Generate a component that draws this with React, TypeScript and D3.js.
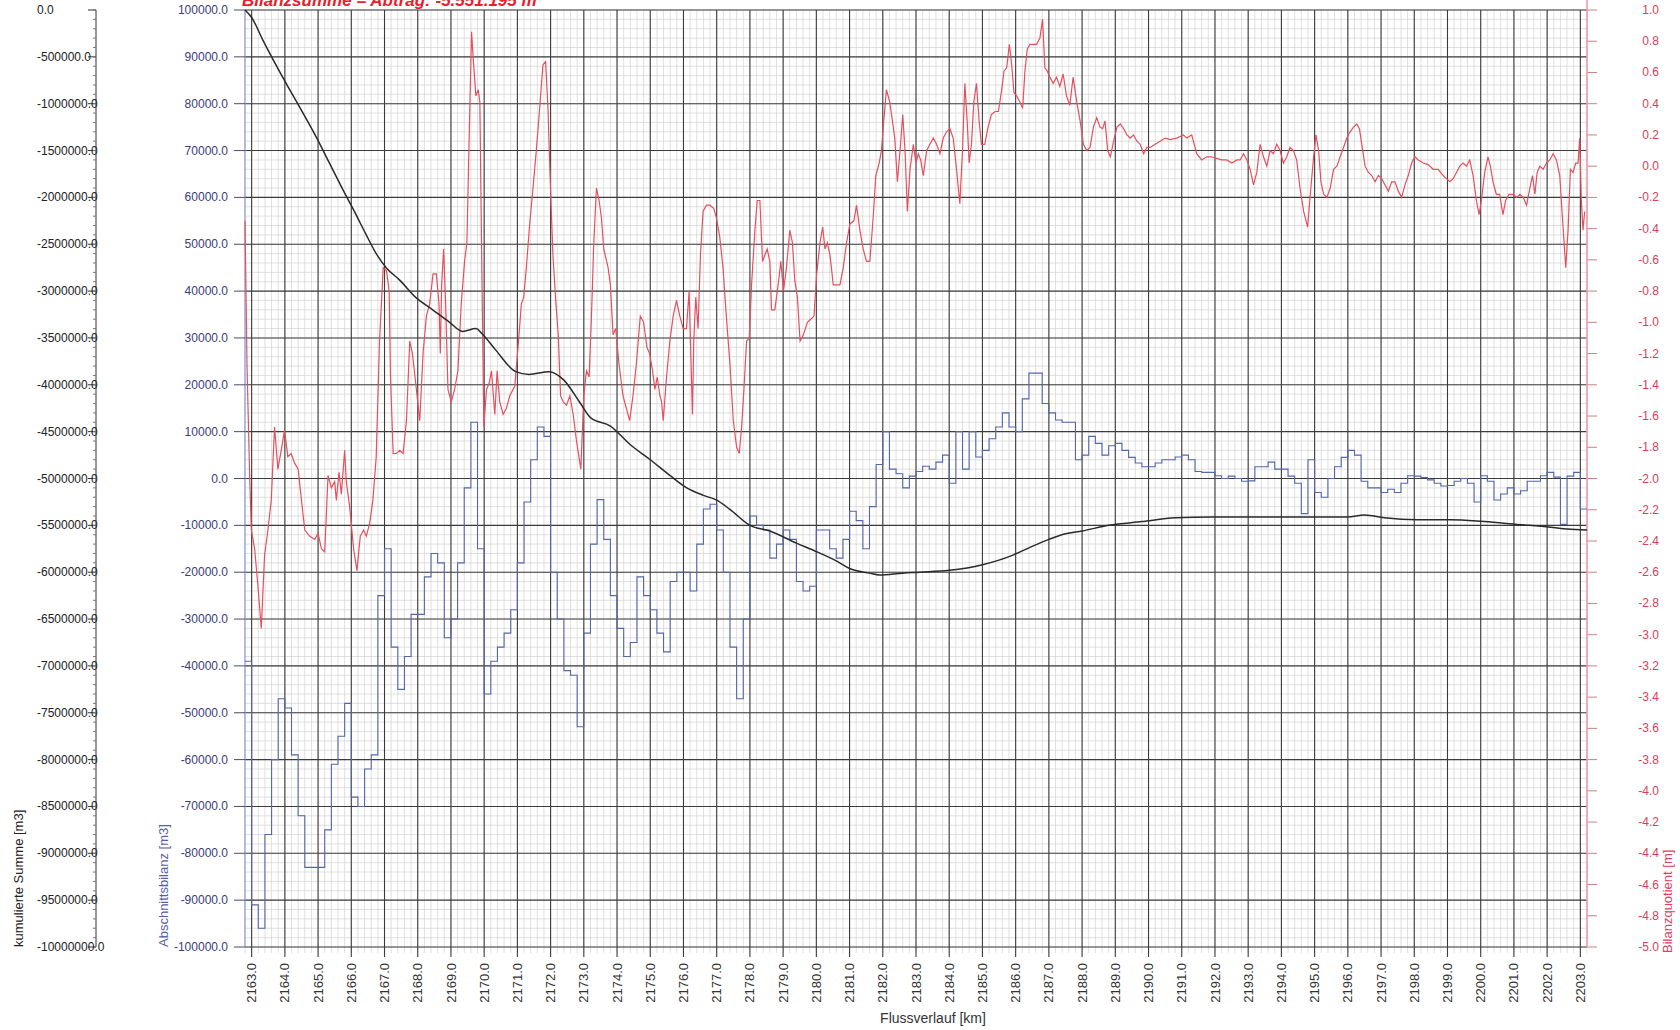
import { useEffect, useRef } from "react";
import * as d3 from "d3";

// ---- data ----

// x categories: river kilometre labels
const kmTicks = d3.range(2163, 2204, 1);

// Abschnittsbilanz [m3] – one value per 0.2 km section, first section starts at 2162.8
const balanceStart = 2162.8;
const balanceStep = 0.2;
const balance = [
  -39000, -91000, -96000, -76000, -60000, -47000, -49000, -59000, -72000, -83000,
  -83000, -83000, -75000, -61000, -55000, -48000, -68000, -70000, -62000, -59000,
  -25000, -15000, -36000, -45000, -38000, -29000, -29000, -21000, -16000, -18000,
  -34000, -30000, -18000, -2000, 12000, -15000, -46000, -39000, -36000, -33000,
  -28000, -18000, -5000, 4000, 11000, 9000, -20000, -30000, -41000, -42000,
  -53000, -33000, -14000, -4500, -13000, -25000, -32000, -38000, -35000, -21000,
  -25000, -28000, -33000, -37000, -22000, -20000, -20000, -24000, -14000, -6500,
  -5500, -11000, -20000, -36000, -47000, -30000, -8000, -10000, -11000, -17000,
  -14000, -11000, -13000, -22000, -24000, -23000, -11000, -11000, -15000, -17000,
  -13000, -7000, -9000, -15000, -6000, 3000, 10000, 2000, 1000, -2000,
  500, 1500, 2600, 2000, 3500, 5000, -1000, 10000, 2000, 10000,
  4600, 6000, 8500, 11000, 14000, 11000, 10000, 17000, 22500, 22500,
  16000, 14000, 12500, 12000, 12000, 4000, 5000, 9000, 7500, 5000,
  7000, 7500, 6000, 4500, 3300, 2500, 2500, 3300, 4000, 4000,
  4600, 5000, 4000, 1500, 1300, 1300, 600, 0, 500, 0,
  -600, -500, 2500, 2500, 3500, 2000, 2000, 500, -1000, -7500,
  4000, -3000, -4000, 0, 2500, 4500, 6000, 5000, -600, -2000,
  -2000, -3000, -2300, -3000, -1000, 600, 500, 200, -300, -1000,
  -1600, -1500, -600, 0, -1000, -5000, 600, -600, -4600, -3300,
  -2000, -3300, -2600, -600, -600, 600, 1300, 300, -9800, 500,
  1300, -6500,
];

// kumulierte Summe [m3]  [km, value]
const cumulative: [number, number][] = [
  [2162.8, 0], [2163.0, -80000], [2163.35, -330000], [2164.0, -760000], [2164.45, -1040000],
  [2164.95, -1360000], [2165.35, -1640000], [2165.75, -1920000], [2166.05, -2120000],
  [2166.45, -2400000], [2166.75, -2600000], [2167.05, -2750000], [2167.45, -2880000],
  [2167.95, -3070000], [2168.45, -3200000], [2168.95, -3330000], [2169.35, -3430000],
  [2169.75, -3400000], [2169.95, -3460000], [2170.35, -3630000], [2170.95, -3860000],
  [2171.35, -3890000], [2171.95, -3860000], [2172.4, -3950000], [2172.9, -4200000],
  [2173.2, -4350000], [2173.8, -4440000], [2174.4, -4640000], [2175.0, -4800000],
  [2175.6, -4970000], [2176.1, -5100000], [2176.6, -5180000], [2177.0, -5230000],
  [2177.4, -5330000], [2178.0, -5500000], [2178.6, -5560000], [2179.4, -5690000],
  [2180.0, -5780000], [2180.6, -5880000], [2181.0, -5960000], [2181.6, -6010000],
  [2181.9, -6030000], [2182.6, -6010000], [2183.1, -6000000], [2184.0, -5980000],
  [2185.0, -5920000], [2185.9, -5820000], [2186.4, -5740000], [2187.0, -5650000],
  [2187.5, -5590000], [2188.0, -5560000], [2188.8, -5500000], [2189.8, -5460000],
  [2190.8, -5420000], [2191.9, -5410000], [2192.9, -5410000], [2194.0, -5410000],
  [2195.0, -5410000], [2196.0, -5410000], [2196.5, -5390000], [2197.1, -5420000],
  [2198.1, -5440000], [2199.1, -5440000], [2200.1, -5460000], [2201.1, -5490000],
  [2202.1, -5520000], [2202.6, -5540000], [2203.2, -5550000],
];

// Bilanzquotient [m]  [km, value]
const quotient: [number, number][] = [
  [2162.8, -0.35], [2162.86, -1.27], [2162.94, -1.98], [2162.99, -2.33], [2163.09, -2.45],
  [2163.19, -2.69], [2163.29, -2.96], [2163.39, -2.49], [2163.49, -2.33], [2163.59, -2.14],
  [2163.69, -1.67], [2163.79, -1.94], [2163.89, -1.82], [2163.99, -1.69], [2164.09, -1.86],
  [2164.19, -1.84], [2164.29, -1.9], [2164.4, -1.94], [2164.5, -2.14], [2164.6, -2.33],
  [2164.75, -2.37], [2164.9, -2.39], [2165.0, -2.35], [2165.1, -2.45], [2165.2, -2.47],
  [2165.3, -1.98], [2165.4, -2.06], [2165.5, -2.02], [2165.55, -2.14], [2165.63, -1.96],
  [2165.7, -2.1], [2165.8, -1.82], [2165.85, -2.02], [2165.95, -2.18], [2166.07, -2.45],
  [2166.17, -2.59], [2166.27, -2.37], [2166.37, -2.33], [2166.45, -2.37], [2166.55, -2.29],
  [2166.65, -2.14], [2166.75, -1.86], [2166.85, -1.12], [2166.96, -0.65], [2167.06, -0.67],
  [2167.14, -0.8], [2167.18, -1.35], [2167.26, -1.84], [2167.36, -1.84], [2167.46, -1.82],
  [2167.56, -1.84], [2167.66, -1.63], [2167.76, -1.12], [2167.84, -1.2], [2167.96, -1.43],
  [2168.06, -1.63], [2168.16, -1.2], [2168.26, -0.96], [2168.36, -0.88], [2168.46, -0.69],
  [2168.56, -0.69], [2168.64, -0.88], [2168.68, -1.2], [2168.72, -0.76], [2168.78, -0.53],
  [2168.84, -0.88], [2168.91, -1.43], [2169.01, -1.51], [2169.11, -1.43], [2169.21, -1.31],
  [2169.31, -0.88], [2169.41, -0.61], [2169.48, -0.49], [2169.54, 0.1], [2169.62, 0.86],
  [2169.67, 0.69], [2169.75, 0.45], [2169.82, 0.49], [2169.87, 0.41], [2169.92, -0.49],
  [2169.99, -1.67], [2170.07, -1.43], [2170.15, -1.39], [2170.22, -1.31], [2170.32, -1.59],
  [2170.39, -1.31], [2170.47, -1.51], [2170.57, -1.59], [2170.67, -1.55], [2170.77, -1.47],
  [2170.92, -1.41], [2171.02, -1.16], [2171.12, -0.88], [2171.19, -0.84], [2171.27, -0.65],
  [2171.37, -0.37], [2171.47, -0.14], [2171.57, 0.1], [2171.67, 0.37], [2171.77, 0.65],
  [2171.85, 0.67], [2171.92, 0.37], [2171.99, -0.1], [2172.07, -0.57], [2172.16, -0.88],
  [2172.23, -1.08], [2172.3, -1.47], [2172.38, -1.51], [2172.48, -1.53], [2172.58, -1.47],
  [2172.68, -1.59], [2172.78, -1.76], [2172.91, -1.94], [2173.0, -1.47], [2173.08, -1.31],
  [2173.16, -1.35], [2173.23, -0.96], [2173.3, -0.49], [2173.38, -0.14], [2173.46, -0.22],
  [2173.53, -0.33], [2173.6, -0.53], [2173.73, -0.65], [2173.8, -0.76], [2173.88, -1.08],
  [2173.96, -1.04], [2174.06, -1.27], [2174.18, -1.47], [2174.28, -1.55], [2174.38, -1.63],
  [2174.48, -1.47], [2174.58, -1.27], [2174.7, -0.96], [2174.8, -1.0], [2174.9, -1.16],
  [2174.98, -1.2], [2175.07, -1.31], [2175.14, -1.43], [2175.21, -1.35], [2175.29, -1.47],
  [2175.34, -1.51], [2175.39, -1.63], [2175.49, -1.35], [2175.59, -1.12], [2175.69, -0.96],
  [2175.79, -0.86], [2175.89, -0.96], [2175.99, -1.04], [2176.09, -1.04], [2176.17, -0.8],
  [2176.21, -1.12], [2176.27, -1.59], [2176.31, -1.12], [2176.37, -0.84], [2176.44, -1.04],
  [2176.51, -0.57], [2176.59, -0.29], [2176.69, -0.25], [2176.79, -0.25], [2176.91, -0.27],
  [2176.99, -0.33], [2177.09, -0.45], [2177.19, -0.65], [2177.29, -0.96], [2177.4, -1.27],
  [2177.5, -1.63], [2177.6, -1.8], [2177.68, -1.84], [2177.75, -1.67], [2177.82, -1.43],
  [2177.9, -1.12], [2177.98, -1.1], [2178.05, -0.76], [2178.15, -0.41], [2178.22, -0.22],
  [2178.3, -0.22], [2178.38, -0.61], [2178.45, -0.57], [2178.52, -0.53], [2178.6, -0.61],
  [2178.65, -0.92], [2178.75, -0.92], [2178.85, -0.76], [2178.93, -0.61], [2179.01, -0.8],
  [2179.1, -0.65], [2179.2, -0.41], [2179.28, -0.49], [2179.35, -0.73], [2179.43, -0.84],
  [2179.51, -1.12], [2179.61, -1.08], [2179.73, -1.0], [2179.83, -0.98], [2179.93, -0.96],
  [2180.01, -0.69], [2180.11, -0.49], [2180.19, -0.39], [2180.26, -0.53], [2180.33, -0.49],
  [2180.41, -0.57], [2180.51, -0.76], [2180.61, -0.76], [2180.71, -0.76], [2180.81, -0.65],
  [2180.91, -0.49], [2181.01, -0.37], [2181.13, -0.35], [2181.21, -0.25], [2181.31, -0.41],
  [2181.41, -0.53], [2181.51, -0.61], [2181.61, -0.61], [2181.71, -0.33], [2181.79, -0.06],
  [2181.89, 0.02], [2181.96, 0.1], [2182.03, 0.29], [2182.11, 0.49], [2182.21, 0.41],
  [2182.29, 0.29], [2182.36, 0.18], [2182.44, -0.1], [2182.52, 0.1], [2182.6, 0.33],
  [2182.67, 0.1], [2182.74, -0.29], [2182.82, -0.02], [2182.92, 0.14], [2183.0, 0.02],
  [2183.07, 0.08], [2183.14, 0.04], [2183.22, -0.06], [2183.32, 0.1], [2183.42, 0.14],
  [2183.52, 0.18], [2183.62, 0.14], [2183.72, 0.08], [2183.82, 0.18], [2183.92, 0.22],
  [2184.02, 0.24], [2184.12, 0.18], [2184.22, -0.02], [2184.32, -0.24], [2184.4, 0.1],
  [2184.47, 0.53], [2184.54, 0.29], [2184.6, 0.02], [2184.67, 0.14], [2184.74, 0.41],
  [2184.82, 0.53], [2184.9, 0.29], [2184.97, 0.14], [2185.07, 0.14], [2185.17, 0.25],
  [2185.27, 0.33], [2185.38, 0.35], [2185.48, 0.35], [2185.58, 0.49], [2185.65, 0.61],
  [2185.73, 0.63], [2185.81, 0.78], [2185.88, 0.65], [2185.95, 0.47], [2186.03, 0.45],
  [2186.13, 0.41], [2186.21, 0.37], [2186.28, 0.61], [2186.35, 0.75], [2186.43, 0.78],
  [2186.53, 0.78], [2186.63, 0.78], [2186.73, 0.82], [2186.81, 0.94], [2186.88, 0.63],
  [2186.95, 0.61], [2187.03, 0.57], [2187.13, 0.53], [2187.23, 0.57], [2187.33, 0.51],
  [2187.43, 0.59], [2187.53, 0.45], [2187.63, 0.39], [2187.73, 0.57], [2187.84, 0.41],
  [2187.94, 0.29], [2188.04, 0.14], [2188.14, 0.1], [2188.24, 0.12], [2188.34, 0.25],
  [2188.44, 0.31], [2188.54, 0.25], [2188.62, 0.24], [2188.69, 0.29], [2188.77, 0.1],
  [2188.85, 0.06], [2188.95, 0.16], [2189.05, 0.25], [2189.15, 0.27], [2189.25, 0.24],
  [2189.35, 0.2], [2189.45, 0.18], [2189.55, 0.2], [2189.65, 0.16], [2189.75, 0.14],
  [2189.85, 0.08], [2189.95, 0.12], [2190.05, 0.12], [2190.2, 0.14], [2190.35, 0.16],
  [2190.5, 0.18], [2190.65, 0.17], [2190.85, 0.18], [2191.05, 0.2], [2191.15, 0.18],
  [2191.3, 0.2], [2191.45, 0.08], [2191.6, 0.04], [2191.75, 0.06], [2191.9, 0.06],
  [2192.05, 0.05], [2192.2, 0.04], [2192.35, 0.04], [2192.51, 0.02], [2192.66, 0.04],
  [2192.76, 0.04], [2192.86, 0.08], [2192.96, 0.04], [2193.06, -0.02], [2193.16, -0.12],
  [2193.26, -0.04], [2193.36, 0.14], [2193.46, 0.06], [2193.56, 0.0], [2193.66, 0.1],
  [2193.76, 0.08], [2193.86, 0.14], [2193.96, 0.1], [2194.06, 0.02], [2194.16, 0.06],
  [2194.26, 0.12], [2194.36, 0.1], [2194.46, 0.04], [2194.56, -0.14], [2194.67, -0.29],
  [2194.79, -0.39], [2194.87, -0.18], [2194.97, 0.06], [2195.04, 0.2], [2195.12, 0.1],
  [2195.19, -0.1], [2195.27, -0.18], [2195.37, -0.2], [2195.47, -0.14], [2195.57, -0.02],
  [2195.67, 0.0], [2195.77, 0.06], [2195.87, 0.12], [2195.97, 0.18], [2196.07, 0.22],
  [2196.17, 0.25], [2196.27, 0.27], [2196.35, 0.24], [2196.42, 0.14], [2196.52, 0.0],
  [2196.62, -0.04], [2196.72, -0.06], [2196.82, -0.1], [2196.92, -0.06], [2197.02, -0.08],
  [2197.12, -0.12], [2197.22, -0.16], [2197.32, -0.1], [2197.42, -0.1], [2197.52, -0.16],
  [2197.62, -0.2], [2197.72, -0.12], [2197.82, -0.06], [2197.92, 0.02], [2198.02, 0.06],
  [2198.12, 0.04], [2198.27, 0.02], [2198.42, 0.01], [2198.57, -0.02], [2198.72, -0.02],
  [2198.87, -0.06], [2198.97, -0.08], [2199.07, -0.1], [2199.17, -0.08], [2199.27, -0.04],
  [2199.37, 0.0], [2199.47, 0.02], [2199.57, 0.0], [2199.67, 0.04], [2199.77, -0.06],
  [2199.87, -0.22], [2199.95, -0.31], [2200.02, -0.22], [2200.12, -0.04], [2200.22, 0.06],
  [2200.29, 0.0], [2200.37, -0.1], [2200.47, -0.18], [2200.57, -0.18], [2200.67, -0.31],
  [2200.75, -0.22], [2200.85, -0.18], [2200.98, -0.18], [2201.08, -0.2], [2201.18, -0.18],
  [2201.28, -0.2], [2201.38, -0.25], [2201.48, -0.14], [2201.56, -0.06], [2201.63, -0.18],
  [2201.7, -0.04], [2201.78, 0.0], [2201.88, -0.02], [2201.98, 0.02], [2202.08, 0.04],
  [2202.18, 0.08], [2202.28, 0.04], [2202.38, -0.06], [2202.46, -0.33], [2202.56, -0.65],
  [2202.63, -0.41], [2202.7, -0.02], [2202.78, -0.04], [2202.86, 0.02], [2202.93, 0.02],
  [2202.98, 0.18], [2203.03, -0.22], [2203.08, -0.41], [2203.13, -0.29],
];

// axis tick values
const sumTicks = d3.range(0, 21).map((i) => -i * 500000);
const balanceTicks = d3.range(0, 21).map((i) => 100000 - i * 10000);
const quotientTicks = d3.range(0, 31).map((i) => Math.round((1 - i * 0.2) * 10) / 10);

const title = "Bilanzsumme = Abtrag: -5.551.195 m³";

const FONT = "'Liberation Sans', Arial, Helvetica, sans-serif";

export default function App() {
  const ref = useRef<SVGSVGElement | null>(null);

  useEffect(() => {
    if (!ref.current) return;
    const svg = d3.select(ref.current);
    svg.selectAll("*").remove();

    const left = 245, right = 1587, top = 10, bottom = 947;

    const x = d3.scaleLinear().domain([2162.8, 2203.2]).range([left, right]);
    const yB = d3.scaleLinear().domain([-100000, 100000]).range([bottom, top]);
    const yS = d3.scaleLinear().domain([-10000000, 0]).range([bottom, top]);
    const yQ = d3.scaleLinear().domain([-5, 1]).range([bottom, top]);

    svg.append("rect").attr("width", 1680).attr("height", 1030).attr("fill", "#fff");

    // minor grid
    const grid = svg.append("g");
    const minorKm = d3.range(0, 203).map((i) => 2162.8 + i * 0.2);
    grid.selectAll("line.vmin").data(minorKm).join("line")
      .attr("x1", (d) => x(d)).attr("x2", (d) => x(d))
      .attr("y1", top).attr("y2", bottom + 6)
      .attr("stroke", "#d2d2d2").attr("stroke-width", 0.7);
    const minorB = d3.range(0, 101).map((i) => -100000 + i * 2000);
    grid.selectAll("line.hmin").data(minorB).join("line")
      .attr("x1", left).attr("x2", right)
      .attr("y1", (d) => yB(d)).attr("y2", (d) => yB(d))
      .attr("stroke", "#d2d2d2").attr("stroke-width", 0.7);

    // major grid
    grid.selectAll("line.vmaj").data(kmTicks).join("line")
      .attr("x1", (d) => x(d)).attr("x2", (d) => x(d))
      .attr("y1", top).attr("y2", bottom + 10)
      .attr("stroke", "#3c3c3c").attr("stroke-width", 1.1);
    grid.selectAll("line.hmaj").data(balanceTicks).join("line")
      .attr("x1", left).attr("x2", right)
      .attr("y1", (d) => yB(d)).attr("y2", (d) => yB(d))
      .attr("stroke", "#3c3c3c").attr("stroke-width", 1.1);

    // cumulative axis (far left)
    const ax0 = svg.append("g").attr("font-family", FONT).attr("font-size", 12);
    ax0.append("line").attr("x1", 96).attr("x2", 96).attr("y1", top).attr("y2", bottom)
      .attr("stroke", "#333");
    ax0.selectAll("line.t").data(sumTicks).join("line")
      .attr("x1", 88).attr("x2", 96)
      .attr("y1", (d) => yS(d)).attr("y2", (d) => yS(d)).attr("stroke", "#333");
    ax0.selectAll("line.m").data(d3.range(0, 101).map((i) => -i * 100000)).join("line")
      .attr("x1", 93).attr("x2", 96)
      .attr("y1", (d) => yS(d)).attr("y2", (d) => yS(d)).attr("stroke", "#777");
    ax0.selectAll("text").data(sumTicks).join("text")
      .attr("x", 37).attr("y", (d) => yS(d) + 4)
      .attr("fill", "#222")
      .text((d) => d.toFixed(1));
    ax0.append("text")
      .attr("transform", `translate(23,${bottom}) rotate(-90)`)
      .attr("fill", "#222").attr("font-size", 13)
      .text("kumulierte Summe [m3]");

    // balance axis (blue)
    const ax1 = svg.append("g").attr("font-family", FONT).attr("font-size", 12);
    ax1.append("line").attr("x1", left).attr("x2", left).attr("y1", top).attr("y2", bottom)
      .attr("stroke", "#8a9ad0").attr("stroke-width", 1.2);
    ax1.selectAll("line.t").data(balanceTicks).join("line")
      .attr("x1", 234).attr("x2", left)
      .attr("y1", (d) => yB(d)).attr("y2", (d) => yB(d)).attr("stroke", "#4a4a6a");
    ax1.selectAll("text").data(balanceTicks).join("text")
      .attr("x", 228).attr("y", (d) => yB(d) + 4)
      .attr("text-anchor", "end").attr("fill", "#3a3c7c")
      .text((d) => d.toFixed(1));
    ax1.append("text")
      .attr("transform", `translate(168,${bottom}) rotate(-90)`)
      .attr("fill", "#5560a8").attr("font-size", 13)
      .text("Abschnittsbilanz [m3]");

    // quotient axis (red, right)
    const ax2 = svg.append("g").attr("font-family", FONT).attr("font-size", 12);
    ax2.selectAll("line.t").data(quotientTicks).join("line")
      .attr("x1", right).attr("x2", right + 10)
      .attr("y1", (d) => yQ(d)).attr("y2", (d) => yQ(d)).attr("stroke", "#c98088");
    ax2.append("line").attr("x1", right).attr("x2", right).attr("y1", 0).attr("y2", bottom)
      .attr("stroke", "#f09aa4").attr("stroke-width", 1.6);
    ax2.selectAll("text").data(quotientTicks).join("text")
      .attr("x", 1659).attr("y", (d) => yQ(d) + 4)
      .attr("text-anchor", "end").attr("fill", "#d8405a")
      .text((d) => d.toFixed(1));
    ax2.append("text")
      .attr("transform", `translate(1672,${bottom + 6}) rotate(-90)`)
      .attr("fill", "#e0405a").attr("font-size", 13)
      .text("Bilanzquotient [m]");

    // x axis
    const axX = svg.append("g").attr("font-family", FONT).attr("font-size", 13).attr("fill", "#333");
    axX.selectAll("text").data(kmTicks).join("text")
      .attr("transform", (d) => `translate(${x(d)},963) rotate(-90)`)
      .attr("text-anchor", "end").attr("dy", "0.35em")
      .text((d) => d.toFixed(1));
    axX.append("text")
      .attr("x", 933).attr("y", 1023).attr("text-anchor", "middle").attr("font-size", 14)
      .text("Flussverlauf [km]");

    // series
    const balancePts: [number, number][] = balance.map((v, i) => [balanceStart + i * balanceStep, v]);
    balancePts.push([2203.2, balance[balance.length - 1]]);
    svg.append("path")
      .datum(balancePts)
      .attr("fill", "none").attr("stroke", "#5466ad").attr("stroke-width", 1.1)
      .attr("d", d3.line<[number, number]>().x((d) => x(d[0])).y((d) => yB(d[1])).curve(d3.curveStepAfter));

    svg.append("path")
      .datum(quotient)
      .attr("fill", "none").attr("stroke", "#e4505e").attr("stroke-width", 1.2)
      .attr("d", d3.line<[number, number]>().x((d) => x(d[0])).y((d) => yQ(d[1])));

    svg.append("path")
      .datum(cumulative)
      .attr("fill", "none").attr("stroke", "#2a2a2a").attr("stroke-width", 1.5)
      .attr("d", d3.line<[number, number]>().x((d) => x(d[0])).y((d) => yS(d[1])).curve(d3.curveMonotoneX));

    // title (cut off at the top edge, as in the scan)
    svg.append("text")
      .attr("x", 242).attr("y", 6)
      .attr("font-family", FONT).attr("font-size", 17)
      .attr("font-weight", "bold").attr("font-style", "italic")
      .attr("fill", "#e8202e")
      .text(title);
  }, []);

  return (
    <svg
      ref={ref}
      width={1680}
      height={1030}
      style={{ position: "absolute", left: 0, top: 0, display: "block" }}
    />
  );
}
